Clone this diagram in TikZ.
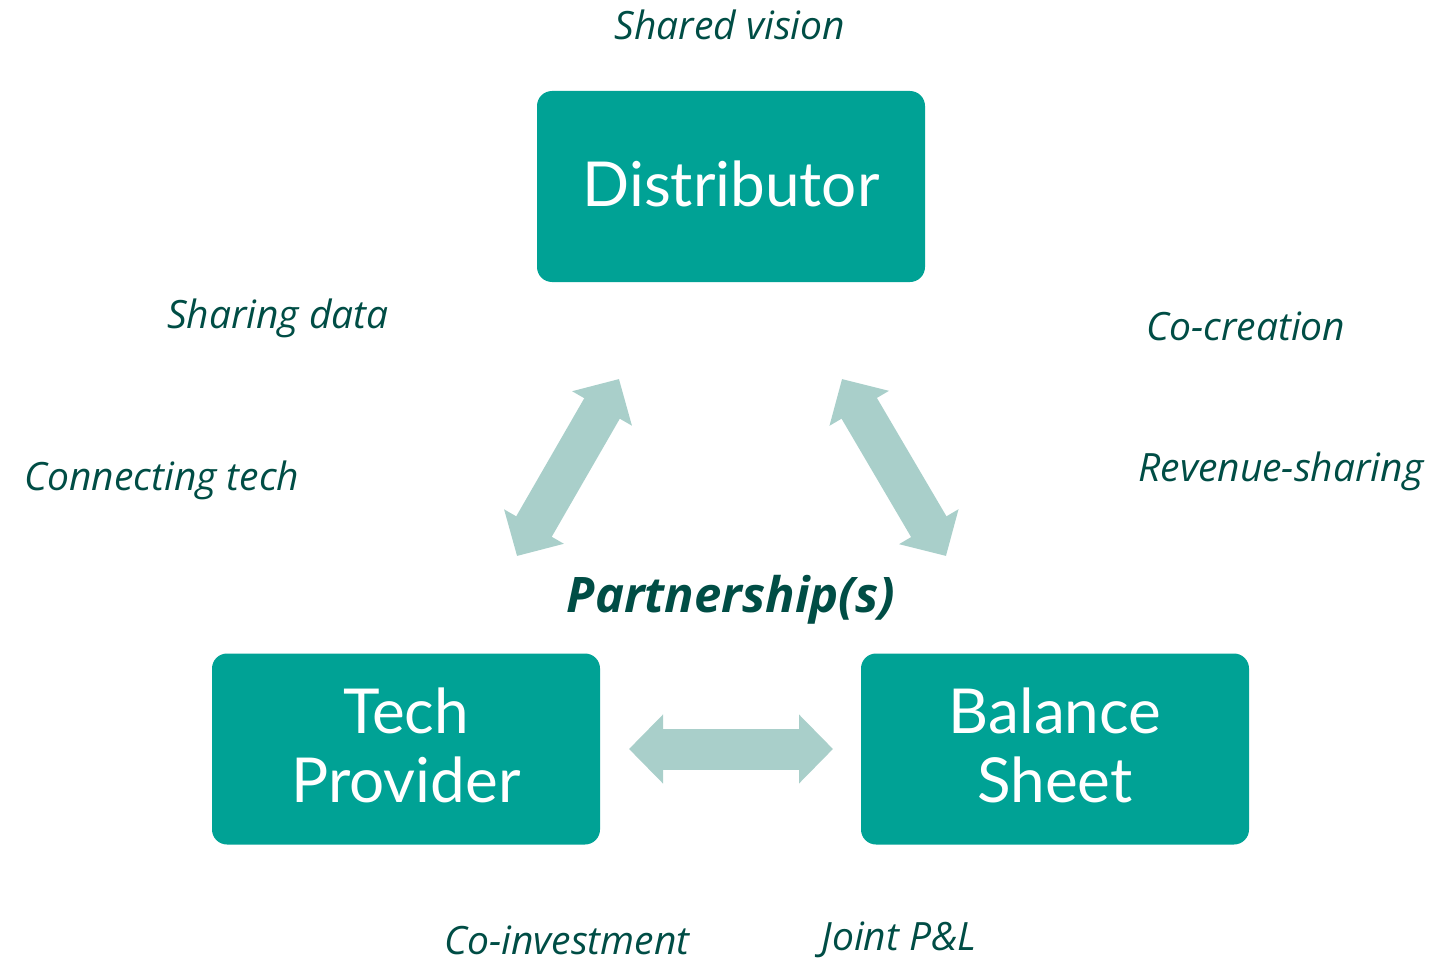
\documentclass[tikz,border=0pt]{standalone}
\usepackage{fontspec}
\setmainfont{Lato}
\newfontfamily\labfont{Open Sans}
\usetikzlibrary{arrows.meta}
\definecolor{teal1}{HTML}{00A295}
\definecolor{arrowc}{HTML}{A9CFCA}
\definecolor{labc}{HTML}{004D45}
\begin{document}
\begin{tikzpicture}[x=0.5pt,y=-0.5pt,
  box/.style={fill=teal1, rounded corners=7.5pt, minimum width=194pt, minimum height=95.5pt, inner sep=0pt, text=white, align=center, font=\fontsize{31}{34.5}\selectfont},
  boxtext/.style={text=white, align=center, font=\fontsize{31}{34.5}\selectfont, inner sep=0pt},
  lab/.style={text=labc, font=\labfont\fontsize{19.5}{23}\selectfont\itshape, inner sep=0pt},
  dbl/.style={draw=arrowc, line width=20.5pt, {Triangle[length=17pt,width=33.5pt]}-{Triangle[length=17pt,width=33.5pt]}}]
\useasboundingbox (0,0) rectangle (1435,963);
\node[box] (dist) at (731,186.5) {};
\node[boxtext] (distt) at (731,184) {Distributor};
\node[box] (tech) at (406,749) {};
\node[boxtext] (techt) at (406,745) {Tech\\Provider};
\node[box] (bal) at (1055,749) {};
\node[boxtext] (balt) at (1055,745) {Balance\\Sheet};
\coordinate (a1) at (517,556);
\coordinate (a2) at (619,379);
\coordinate (b1) at (842,379);
\coordinate (b2) at (946,556);
\coordinate (c1) at (629,749);
\coordinate (c2) at (833,749);
\draw[dbl] (a1) -- (a2);
\draw[dbl] (b1) -- (b2);
\draw[dbl] (c1) -- (c2);
\node[lab] (sv) at (730,25) {Shared vision};
\node[lab] (sd) at (278,318) {Sharing data};
\node[lab] (cc) at (1246,326) {Co-creation};
\node[lab] (ct) at (162,480) {Connecting tech};
\node[lab] (rs) at (1281,471) {Revenue-sharing};
\node[lab] (ci) at (567,940) {Co-investment};
\node[lab] (jp) at (899,940) {Joint P\&L};
\node[text=labc, font=\labfont\fontsize{24.5}{28}\selectfont\bfseries\itshape, inner sep=0pt] (ps) at (731,600) {Partnership(s)};
\end{tikzpicture}
\end{document}
